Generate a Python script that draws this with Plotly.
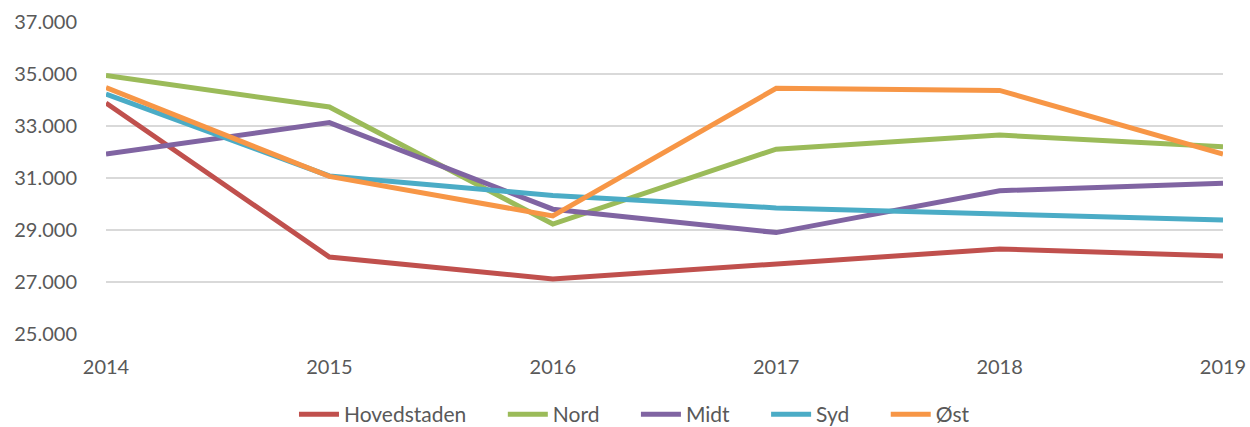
import plotly.graph_objects as go

years = [2014, 2015, 2016, 2017, 2018, 2019]
hovedstaden = [33885, 27960, 27115, 27680, 28270, 28000]
nord = [34940, 33730, 29230, 32110, 32650, 32200]
midt = [31920, 33130, 29800, 28900, 30510, 30800]
syd = [34230, 31080, 30330, 29850, 29615, 29385]
oest = [34475, 31060, 29540, 34450, 34370, 31920]

series = [
    ("Hovedstaden", hovedstaden, "#C0504D"),
    ("Nord", nord, "#9BBB59"),
    ("Midt", midt, "#8064A2"),
    ("Syd", syd, "#4BACC6"),
    ("Øst", oest, "#F79646"),
]

y_ticks = [25000, 27000, 29000, 31000, 33000, 35000, 37000]
y_labels = ["25.000", "27.000", "29.000", "31.000", "33.000", "35.000", "37.000"]

fig = go.Figure()
for name, vals, color in series:
    fig.add_trace(go.Scatter(x=years, y=vals, name=name + "\u2003\u2003", mode="lines",
                             line=dict(color=color, width=5)))

font = dict(family="Lato, Noto Sans, sans-serif", size=20, color="#595959")
fig.update_layout(
    width=1250, height=427,
    margin=dict(l=106, r=27, t=22, b=93, autoexpand=False),
    paper_bgcolor="white", plot_bgcolor="white",
    font=font,
    showlegend=True,
    legend=dict(orientation="h", x=0.487, xanchor="center", y=-0.258, yanchor="middle",
                font=dict(family="Lato, Noto Sans, sans-serif", size=21, color="#595959"),
                itemwidth=40, tracegroupgap=0),
    xaxis=dict(range=[2014, 2019], tickvals=years, ticktext=[str(y) for y in years],
               showgrid=False, zeroline=False, showline=False, automargin=False,
               ticks="outside", ticklen=15, tickcolor="rgba(0,0,0,0)"),
    yaxis=dict(range=[25000, 37000], tickvals=y_ticks, ticktext=y_labels,
               showgrid=True, gridcolor="#D9D9D9", gridwidth=1.5, zeroline=False,
               showline=False, automargin=False,
               ticks="outside", ticklen=24, tickcolor="rgba(0,0,0,0)"),
)

fig.write_html("out.html", config={"displayModeBar": False},
               post_script="document.body.style.margin='0';document.body.style.overflow='hidden';")
